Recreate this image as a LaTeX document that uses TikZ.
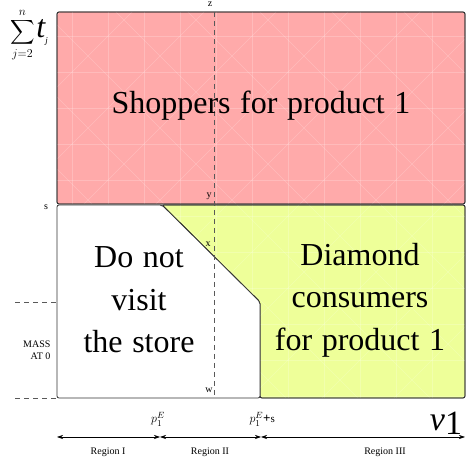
\documentclass[tikz,border=0pt]{standalone}
\usepackage{amsmath,amssymb}
\usepackage{fontspec}
\setmainfont{Liberation Serif}
\usetikzlibrary{arrows.meta,positioning}
\definecolor{shopred}{HTML}{FFAAAA}
\definecolor{diagreen}{HTML}{EEFF99}
\definecolor{edgegray}{HTML}{333333}

\begin{document}
\begin{tikzpicture}[x=1pt,y=-1pt,
  bigtext/.style={font=\rmfamily\fontsize{32}{42.5}\selectfont,align=center,
    execute at begin node={\spaceskip=0.3em\relax}},
  smalltext/.style={font=\rmfamily\fontsize{10}{12}\selectfont},
  region/.style={draw=edgegray,line width=0.8pt,rounded corners=2pt},
  hatch/.style={white,opacity=0.2,line width=0.5pt},
  guide/.style={dashed,dash pattern=on 5pt off 4pt,gray!70!black,line width=0.8pt},
  span/.style={{Stealth[length=6pt,width=4pt]}-{Stealth[length=6pt,width=4pt]},line width=0.6pt}]
 \useasboundingbox (0,0) rectangle (475,468);
 % regions
 \draw[region,fill=shopred] (57,12) rectangle (465,204);
 \draw[region,fill=diagreen] (162,205) -- (465,205) -- (465,398) -- (260,398) -- (260,302) -- cycle;
 % faint texture
 \begin{scope}
  \clip (57,12) rectangle (465,204) (162,205) -- (465,205) -- (465,398) -- (260,398) -- (260,302) -- cycle;
  \foreach \k in {0,36,...,468} {
   \draw[hatch] (57,\k) -- (465,\k);
   \draw[hatch] (\k,0) -- (\k,398);
  }
  \foreach \k in {-400,-328,...,480} {
   \draw[hatch] (\k,0) -- ++(400,400);
   \draw[hatch] (\k+400,0) -- ++(-400,400);
  }
 \end{scope}
 \draw[region] (57,12) rectangle (465,204);
 \draw[region] (162,205) -- (465,205) -- (465,398) -- (260,398) -- (260,302) -- cycle;
 \draw[region,fill=white] (57,205) -- (162,205) -- (260,302) -- (260,398) -- (57,398) -- cycle;
 % dashed guides
 \draw[guide] (214,12) -- (214,398);
 \draw[guide] (15,302) -- (57,302); \draw[guide] (15,398) -- (57,398);
 % labels on the guide
 \node[smalltext] (z) at (210,4) {z};
 \node[smalltext] (y) at (209,196) {y};
 \node[smalltext] (x) at (208,244) {x};
 \node[smalltext] (w) at (209,390) {w};
 % area texts
 \node[bigtext] (shop) at (261,106) {Shoppers for product 1};
 \node[bigtext] (novisit) at (139,300) {Do not\\visit\\the store};
 \node[bigtext] (diam) at (360,300) {Diamond\\consumers\\for product 1};
 % vertical axis
 \node[inner sep=0pt] (sum) at (29,35) {{\fontsize{17}{20}\selectfont$\displaystyle\sum_{j=2}^{n}$}\,{\fontsize{32}{34}\selectfont\itshape t}\raisebox{-6pt}{\fontsize{9}{10}\selectfont\itshape j}};
 \node[smalltext] (s) at (46,207) {s};
 \node[smalltext,align=right,left] (mass) at (54,350) {MASS\\AT 0};
 % horizontal axis
 \coordinate (a0) at (57,437); \coordinate (a1) at (160,437);
 \coordinate (a2) at (261,437); \coordinate (a3) at (465,437);
 \draw[span] (a0) -- (a1); \draw[span] (a1) -- (a2); \draw[span] (a2) -- (a3);
 \node[font=\fontsize{13}{14}\selectfont] (pE) at (158,419) {$p_1^E$};
 \node[font=\fontsize{13}{14}\selectfont,anchor=west] (pEs) at (246,419) {$p_1^E$\textbf{+}\fontsize{11}{12}\selectfont s};
 \node[font=\rmfamily\fontsize{34}{36}\selectfont,inner sep=0pt] (v1) at (446,423) {\itshape v\upshape\raisebox{-4pt}{1}};
 \node[smalltext] (r1) at (108,452) {Region I};
 \node[smalltext] (r2) at (210,452) {Region II};
 \node[smalltext] (r3) at (385,452) {Region III};
\end{tikzpicture}
\end{document}
